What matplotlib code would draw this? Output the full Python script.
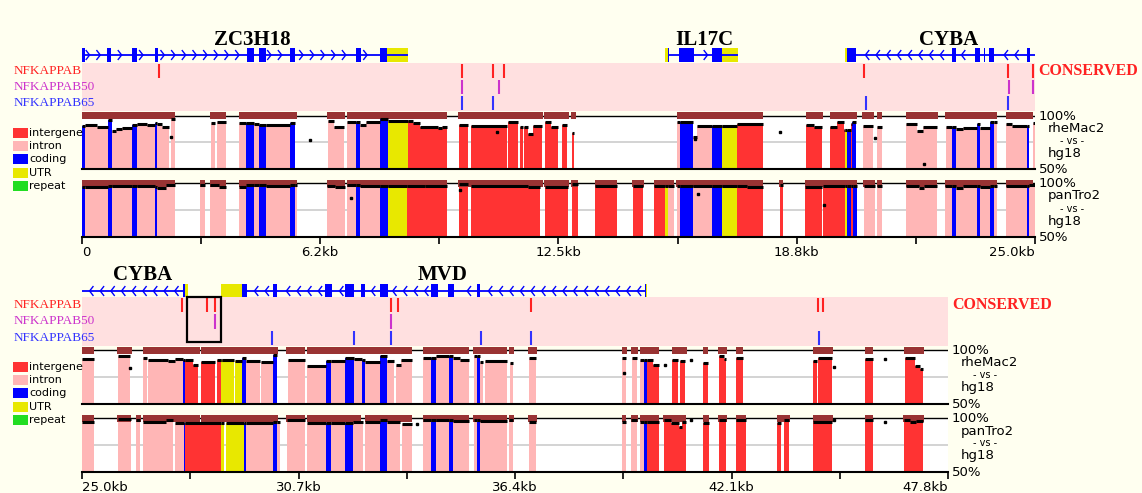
import numpy as np
import matplotlib
matplotlib.use('Agg')
import matplotlib.pyplot as plt
from matplotlib.patches import Rectangle

# ======================= DATA =======================
# type codes: ig = intergene, in = intron, cd = coding, ut = UTR
# ---- top panel (0 - 25.0 kb) ----
TOP_TICKS = [0.0, 6.25, 12.5, 18.75, 25.0]
TOP_TICK_LABELS = ['0', '6.2kb', '12.5kb', '18.8kb', '25.0kb']
TOP_MINOR = [3.125, 9.375, 15.625, 21.875]

TOP_GENE_NAMES = ['ZC3H18', 'IL17C', 'CYBA']
TOP_GENE_NAME_POS = [4.47, 16.32, 22.73]
TOP_GENES = [(0.00, 8.55, '+'), (15.37, 17.21, '+'), (20.07, 25.03, '-')]
TOP_CODING = [(0.0, 0.07), (0.66, 0.76), (1.31, 1.44), (1.92, 1.99), (4.33, 4.51),
              (4.64, 4.83), (5.46, 5.59), (7.19, 7.32), (7.82, 8.00), (15.37, 15.40),
              (15.66, 16.06), (16.53, 16.79), (20.07, 20.30), (22.82, 22.93),
              (23.43, 23.56), (23.66, 23.70), (23.80, 23.92), (24.79, 24.87)]
TOP_UTR = [(8.00, 8.55), (15.29, 15.37), (16.79, 17.21), (20.02, 20.07)]

TOP_NFKB = [2.02, 9.97, 10.78, 11.07, 20.51, 24.29, 24.95]
TOP_NFKB50 = [9.97, 10.94, 24.32, 24.95]
TOP_NFKB65 = [9.97, 10.78, 20.57, 24.29]

TOP_RHE = [
    (0.00, 0.07, 'cd', 90), (0.07, 0.40, 'in', 91), (0.40, 0.68, 'in', 89.5),
    (0.68, 0.79, 'cd', 96), (0.79, 0.90, 'in', 85.5), (0.90, 1.05, 'in', 87.5),
    (1.05, 1.31, 'in', 88.5), (1.31, 1.44, 'cd', 91), (1.44, 1.70, 'in', 92.5),
    (1.70, 1.92, 'in', 91.5), (1.92, 1.97, 'cd', 93), (1.97, 2.10, 'in', 92),
    (2.10, 2.28, 'in', 89.5), (2.33, 2.44, 'in', 97), (3.38, 3.49, 'in', 93),
    (3.54, 3.78, 'in', 94), (4.12, 4.30, 'in', 93), (4.30, 4.51, 'cd', 93),
    (4.51, 4.64, 'in', 92), (4.64, 4.83, 'cd', 91.5), (4.83, 5.46, 'in', 91),
    (5.46, 5.59, 'cd', 93), (6.45, 6.60, 'in', 95), (6.60, 6.87, 'in', 89.5),
    (6.95, 7.19, 'in', 94), (7.19, 7.29, 'cd', 94), (7.29, 7.45, 'in', 91),
    (7.45, 7.82, 'in', 94), (7.82, 8.03, 'cd', 97), (8.03, 8.55, 'ut', 95),
    (8.55, 8.68, 'ig', 95), (8.68, 8.87, 'ig', 93), (8.87, 9.34, 'ig', 89.5),
    (9.34, 9.44, 'ig', 88), (9.44, 9.58, 'ig', 89.5), (9.89, 10.13, 'ig', 91),
    (10.20, 11.15, 'ig', 90.5), (11.18, 11.44, 'ig', 94), (11.49, 11.57, 'ig', 89),
    (11.59, 11.70, 'ig', 89), (11.70, 11.83, 'ig', 83), (11.83, 12.07, 'ig', 90),
    (12.15, 12.30, 'ig', 94), (12.30, 12.49, 'ig', 89), (12.59, 12.72, 'ig', 91),
    (12.85, 12.91, 'ig', 83.5), (15.61, 15.69, 'in', 94), (15.69, 16.03, 'cd', 94),
    (16.03, 16.13, 'in', 80), (16.13, 16.53, 'in', 90.5), (16.53, 16.79, 'cd', 90.5),
    (16.79, 17.18, 'ut', 90.5), (17.18, 17.86, 'ig', 92.5), (18.99, 19.20, 'ig', 91),
    (19.20, 19.41, 'ig', 89), (19.62, 19.80, 'ig', 89), (19.80, 19.98, 'ig', 94),
    (19.98, 20.02, 'ig', 86.5), (20.02, 20.07, 'ut', 86.5), (20.07, 20.17, 'cd', 86.5),
    (20.17, 20.20, 'ig', 92), (20.20, 20.30, 'cd', 94), (20.49, 20.75, 'in', 90),
    (20.86, 20.99, 'in', 89), (21.62, 21.90, 'in', 92), (21.90, 22.06, 'in', 86),
    (22.06, 22.43, 'in', 89), (22.67, 22.82, 'in', 89), (22.82, 22.93, 'cd', 89.5),
    (22.93, 23.10, 'in', 87), (23.10, 23.48, 'in', 88.5), (23.48, 23.56, 'cd', 92),
    (23.56, 23.82, 'in', 88), (23.82, 23.92, 'cd', 94.5), (23.92, 24.00, 'in', 94.5),
    (24.24, 24.40, 'in', 92.5), (24.40, 24.79, 'in', 90.5), (24.79, 24.84, 'cd', 90.5),
    (24.95, 25.00, 'in', 93)]
TOP_RHE_BARS = [(0.0, 2.44), (3.36, 3.78), (4.12, 5.64), (6.43, 6.90), (6.95, 9.58),
                (9.86, 12.09), (12.12, 12.78), (12.83, 12.96), (15.61, 17.86),
                (18.99, 19.44), (19.62, 20.33), (20.46, 20.78), (20.86, 20.99),
                (21.62, 22.46), (22.64, 24.00), (24.24, 24.95)]
TOP_RHE_DOTS = [(2.33, 80), (5.98, 77), (10.88, 85), (16.08, 78), (18.30, 85),
                (20.81, 79), (22.10, 54)]

TOP_PAN = [
    (0.00, 0.07, 'cd', 96), (0.07, 0.68, 'in', 96), (0.68, 0.79, 'cd', 97.5),
    (0.79, 1.31, 'in', 97.5), (1.31, 1.44, 'cd', 97.5), (1.44, 1.92, 'in', 97.5),
    (1.92, 1.97, 'cd', 96), (1.97, 2.20, 'in', 95.5), (2.20, 2.44, 'in', 98),
    (3.10, 3.23, 'in', 98), (3.36, 3.60, 'in', 98), (3.60, 3.78, 'in', 96.5),
    (4.12, 4.30, 'in', 96.5), (4.30, 4.51, 'cd', 98), (4.51, 4.64, 'in', 98),
    (4.64, 4.83, 'cd', 98), (4.83, 5.46, 'in', 97.5), (5.46, 5.59, 'cd', 98),
    (5.59, 5.64, 'in', 98), (6.43, 6.65, 'in', 97.5), (6.65, 6.90, 'in', 96),
    (6.95, 7.19, 'in', 98), (7.19, 7.29, 'cd', 98), (7.29, 7.82, 'in', 97.5),
    (7.82, 8.03, 'cd', 97.5), (8.03, 8.53, 'ut', 97.5), (8.53, 9.00, 'ig', 97.5),
    (9.00, 9.58, 'ig', 97), (9.89, 10.13, 'ig', 99), (10.20, 11.70, 'ig', 97.5),
    (11.70, 12.01, 'ig', 96), (12.15, 12.75, 'ig', 96), (12.85, 13.01, 'ig', 99),
    (13.46, 14.03, 'ig', 97), (14.45, 14.72, 'ig', 97.5), (15.01, 15.29, 'ig', 97.5),
    (15.29, 15.37, 'ut', 97.5), (15.37, 15.53, 'in', 97.5), (15.61, 15.69, 'in', 97.5),
    (15.69, 16.03, 'cd', 97.5), (16.03, 16.53, 'in', 97.5), (16.53, 16.79, 'cd', 97.5),
    (16.79, 17.18, 'ut', 97.5), (17.18, 17.45, 'ig', 97.5), (17.45, 17.86, 'ig', 96),
    (18.31, 18.39, 'ig', 98), (18.97, 19.41, 'ig', 96), (19.44, 20.02, 'ig', 97.5),
    (20.02, 20.07, 'ut', 97), (20.07, 20.17, 'cd', 97), (20.17, 20.23, 'ig', 97.5),
    (20.23, 20.33, 'cd', 97.5), (20.51, 20.80, 'in', 97), (20.86, 20.99, 'in', 97),
    (21.62, 21.95, 'in', 97.5), (21.95, 22.10, 'in', 95.5), (22.10, 22.43, 'in', 97),
    (22.64, 22.82, 'in', 97.5), (22.82, 22.93, 'cd', 97.5), (22.93, 23.10, 'in', 95),
    (23.10, 23.48, 'in', 97), (23.48, 23.56, 'cd', 97.5), (23.56, 23.82, 'in', 96.5),
    (23.82, 23.92, 'cd', 97.5), (23.92, 24.00, 'in', 97.5), (24.24, 24.79, 'in', 97.5),
    (24.79, 24.84, 'cd', 97.5), (24.84, 25.00, 'in', 98)]
TOP_PAN_BARS = [(0.0, 2.44), (3.10, 3.23), (3.36, 3.78), (4.12, 5.64), (6.43, 6.90),
                (6.95, 9.58), (9.86, 12.09), (12.12, 12.78), (12.83, 13.01),
                (13.46, 14.03), (14.43, 14.74), (15.01, 15.53), (15.58, 17.86),
                (18.28, 18.39), (18.97, 20.33), (20.49, 20.80), (20.86, 20.99),
                (21.62, 22.43), (22.64, 24.00), (24.24, 24.95)]
TOP_PAN_DOTS = [(7.05, 86), (9.92, 93.5), (16.15, 90), (19.46, 79.5)]

# ---- bottom panel (25.0 - 47.8 kb) ----
BOT_TICKS = [25.0, 30.7, 36.4, 42.1, 47.8]
BOT_TICK_LABELS = ['25.0kb', '30.7kb', '36.4kb', '42.1kb', '47.8kb']
BOT_MINOR = [27.85, 33.55, 39.25, 44.95]

BOT_GENE_NAMES = ['CYBA', 'MVD']
BOT_GENE_NAME_POS = [26.59, 34.50]
BOT_GENES = [(25.00, 27.71, '-'), (29.34, 39.85, '-')]
BOT_CODING = [(27.66, 27.71), (29.21, 29.34), (30.03, 30.13), (31.40, 31.58),
              (31.92, 32.16), (32.35, 32.45), (32.85, 33.06), (34.19, 34.37),
              (34.64, 34.79), (35.40, 35.48), (39.82, 39.85)]
BOT_UTR = [(27.71, 27.79), (28.66, 29.21), (39.85, 39.88)]

BOT_NFKB = [27.63, 28.29, 28.50, 33.14, 33.32, 36.82, 44.38, 44.51]
BOT_NFKB50 = [28.50, 33.14]
BOT_NFKB65 = [30.00, 32.16, 33.14, 35.51, 36.82, 44.40]
BOX_SPAN = (27.76, 28.66)

BOT_RHE = [
    (25.00, 25.32, 'in', 92), (25.95, 26.26, 'in', 94), (26.61, 26.71, 'in', 93),
    (26.74, 27.26, 'in', 91), (27.26, 27.44, 'in', 89.5), (27.44, 27.66, 'in', 92),
    (27.66, 27.71, 'cd', 91), (27.71, 27.92, 'ig', 91), (27.92, 28.05, 'ig', 86),
    (28.13, 28.49, 'ig', 89), (28.55, 28.66, 'ig', 91), (28.66, 28.69, 'ut', 91),
    (28.69, 29.00, 'ut', 90.5), (29.04, 29.21, 'ut', 90), (29.21, 29.33, 'cd', 93),
    (29.33, 29.68, 'in', 90), (29.72, 30.03, 'in', 88.5), (30.03, 30.14, 'cd', 95),
    (30.42, 30.87, 'in', 90.5), (30.93, 31.42, 'in', 85.5), (31.42, 31.56, 'cd', 90),
    (31.56, 31.92, 'in', 90), (31.92, 32.16, 'cd', 93), (32.16, 32.37, 'in', 92),
    (32.37, 32.45, 'cd', 91), (32.45, 32.85, 'in', 89), (32.85, 33.04, 'cd', 94.5),
    (33.04, 33.21, 'in', 90), (33.27, 33.40, 'in', 86), (33.40, 33.68, 'in', 90.5),
    (33.97, 34.18, 'in', 93), (34.18, 34.32, 'cd', 93), (34.32, 34.67, 'in', 94),
    (34.67, 34.78, 'cd', 94), (34.78, 34.95, 'in', 93), (34.95, 35.19, 'in', 91),
    (35.32, 35.41, 'in', 94.5), (35.41, 35.48, 'cd', 94), (35.48, 35.57, 'in', 89),
    (35.61, 36.18, 'in', 90), (36.27, 36.34, 'in', 88), (36.78, 36.95, 'in', 93),
    (39.23, 39.32, 'in', 93), (39.47, 39.62, 'in', 93), (39.69, 39.80, 'in', 91),
    (39.80, 39.87, 'cd', 91), (39.87, 40.03, 'ig', 91), (40.03, 40.20, 'ig', 86),
    (40.53, 40.70, 'ig', 91), (40.75, 40.88, 'ig', 90), (41.36, 41.47, 'ig', 88),
    (41.78, 41.90, 'ig', 94.5), (41.90, 41.96, 'ig', 92), (42.22, 42.41, 'ig', 93),
    (44.24, 44.34, 'ig', 90), (44.39, 44.74, 'ig', 93), (45.62, 45.83, 'ig', 92),
    (46.67, 46.93, 'ig', 93), (46.93, 47.06, 'ig', 85), (47.06, 47.15, 'ig', 82)]
BOT_RHE_BARS = [(25.0, 25.32), (25.93, 26.32), (26.61, 28.10), (28.14, 30.16),
                (30.38, 30.86), (30.93, 33.70), (33.97, 35.20), (35.30, 36.18),
                (36.25, 36.37), (36.73, 36.99), (39.23, 39.34), (39.45, 39.65),
                (39.69, 40.20), (40.53, 40.92), (41.36, 41.49), (41.75, 41.97),
                (42.21, 42.41), (44.24, 44.78), (45.62, 45.83), (46.64, 47.17)]
BOT_RHE_DOTS = [(26.26, 83), (39.27, 78.5), (40.35, 86), (41.03, 91),
                (44.81, 84), (46.14, 92)]

BOT_PAN = [
    (25.00, 25.32, 'in', 96.5), (25.95, 26.29, 'in', 99), (26.43, 26.54, 'in', 98),
    (26.61, 27.20, 'in', 96.5), (27.20, 27.40, 'in', 98), (27.44, 27.69, 'in', 95.5),
    (27.69, 27.72, 'cd', 95.5), (27.72, 28.67, 'ig', 95.5), (28.67, 28.73, 'ut', 95.5),
    (28.80, 29.26, 'ut', 95.5), (29.26, 29.33, 'cd', 95.5), (29.33, 30.03, 'in', 95.5),
    (30.03, 30.14, 'cd', 96.5), (30.14, 30.20, 'in', 96.5), (30.41, 30.87, 'in', 98),
    (30.93, 31.43, 'in', 95), (31.43, 31.55, 'cd', 95), (31.55, 31.92, 'in', 95),
    (31.92, 32.14, 'cd', 95.5), (32.14, 32.40, 'in', 96.5), (32.46, 32.85, 'in', 96.5),
    (32.85, 33.04, 'cd', 98), (33.04, 33.37, 'in', 96.5), (33.42, 33.68, 'in', 94),
    (33.97, 34.18, 'in', 98), (34.18, 34.32, 'cd', 98), (34.32, 34.67, 'in', 98),
    (34.67, 34.78, 'cd', 98), (34.78, 35.19, 'in', 97), (35.32, 35.41, 'in', 98),
    (35.41, 35.48, 'cd', 98), (35.48, 36.18, 'in', 97), (36.24, 36.35, 'in', 98),
    (36.78, 36.95, 'in', 96.5), (39.22, 39.32, 'in', 96), (39.45, 39.62, 'in', 98),
    (39.69, 39.80, 'in', 96.5), (39.80, 39.87, 'cd', 96.5), (39.87, 40.20, 'ig', 96.5),
    (40.31, 40.50, 'ig', 98), (40.50, 40.72, 'ig', 95), (40.72, 40.80, 'ig', 92),
    (40.80, 40.90, 'ig', 96.5), (41.36, 41.52, 'ig', 95), (41.78, 41.96, 'ig', 98),
    (42.22, 42.48, 'ig', 98), (43.29, 43.40, 'ig', 95), (43.47, 43.62, 'ig', 98),
    (44.24, 44.74, 'ig', 96.5), (45.62, 45.83, 'ig', 98), (46.64, 46.80, 'ig', 98),
    (46.80, 46.95, 'ig', 96), (46.95, 47.15, 'ig', 97)]
BOT_PAN_BARS = [(25.0, 25.32), (25.93, 26.29), (26.42, 26.55), (26.61, 28.10),
                (28.14, 30.16), (30.38, 30.86), (30.93, 32.35), (32.46, 33.70),
                (33.97, 35.20), (35.30, 36.18), (36.25, 36.37), (36.73, 36.99),
                (39.22, 39.32), (39.45, 39.65), (39.69, 40.20), (40.30, 40.90),
                (41.36, 41.51), (41.75, 41.97), (42.22, 42.48), (43.29, 43.64),
                (44.24, 44.78), (45.62, 45.83), (46.62, 47.17)]
BOT_PAN_DOTS = [(33.81, 94), (41.03, 98.5), (44.81, 98.5), (46.14, 96.5)]

TF_NAMES = ['NFKAPPAB', 'NFKAPPAB50', 'NFKAPPAB65']
SPECIES = ['rheMac2', 'panTro2']
LEGEND_LABELS = ['intergene', 'intron', 'coding', 'UTR', 'repeat']

# ======================= STYLE =======================
W, H = 1142, 493
BG = '#FFFFF0'
COL = {'ig': '#FF3333', 'in': '#FFB6B6', 'cd': '#0000FF', 'ut': '#E8E800'}
LEGEND_COLORS = ['#FF3333', '#FFB6B6', '#0000FF', '#E8E800', '#22DD22']
TF_COLORS = ['#FF2222', '#CC33CC', '#3333FF']
BROWN = '#993333'
BLUE = '#0000FF'
PINKBAND = '#FFE0E0'

fig = plt.figure(figsize=(W / 100, H / 100), dpi=100)
fig.patch.set_facecolor(BG)


def axes_px(x0, x1, ytop, ybot):
    ax = fig.add_axes([x0 / W, 1 - ybot / H, (x1 - x0) / W, (ybot - ytop) / H])
    ax.set_facecolor('none')
    for sp in ax.spines.values():
        sp.set_visible(False)
    ax.set_xticks([])
    ax.set_yticks([])
    return ax


def draw_genes(ax, xlim, genes, coding, utr, names, name_pos, name_dy):
    ax.set_xlim(*xlim)
    ax.set_ylim(0, 1)
    blocks = coding + utr
    for s, e, strand in genes:
        ax.plot([s, e], [0.5, 0.5], color=BLUE, lw=1.3, solid_capstyle='butt')
        for x in np.arange(s + 0.2, e - 0.1, 0.28):
            if any(a - 0.12 < x < b + 0.12 for a, b in blocks):
                continue
            d = -0.09 if strand == '+' else 0.09
            ax.plot([x + d, x, x + d], [0.72, 0.5, 0.28], color=BLUE, lw=1.0)
    ax.broken_barh([(a, b - a) for a, b in coding], (0.17, 0.66),
                   facecolors=BLUE, edgecolor='none')
    ax.broken_barh([(a, b - a) for a, b in utr], (0.17, 0.66),
                   facecolors=COL['ut'], edgecolor='none')
    for n, p in zip(names, name_pos):
        ax.text(p, 0.5 + name_dy, n, ha='center', va='center', fontsize=15,
                fontweight='bold', family='Liberation Serif', clip_on=False)


def draw_tf(ax, xlim, rows):
    ax.set_xlim(*xlim)
    ax.set_ylim(0, 3)
    ax.set_facecolor(PINKBAND)
    for i, (sites, c) in enumerate(zip(rows, TF_COLORS)):
        base = 2 - i
        ax.vlines(sites, base + 0.06, base + 0.94, color=c, lw=1.5)


def draw_cons(ax, xlim, segs, bars, dots):
    ax.set_xlim(*xlim)
    ax.set_ylim(50, 104)
    ax.add_patch(Rectangle((xlim[0], 50), xlim[1] - xlim[0], 50, facecolor='white',
                           edgecolor='none', zorder=0))
    ax.axhline(75, color='#CCCCCC', lw=1.2, zorder=0.5)
    for s, e, t, p in segs:
        ax.bar(s, p - 50, width=e - s, bottom=50, align='edge', color=COL[t],
               edgecolor='none', linewidth=0, zorder=1)
    ax.axhline(100, color='black', lw=1.0, zorder=2)
    ax.broken_barh([(s, e - s) for s, e in bars], (96.6, 6.6), facecolors=BROWN,
                   edgecolor='none', zorder=3)
    for s, e, t, p in segs:
        ax.hlines(p, s, e, color='black', lw=2.2, zorder=4)
    if dots:
        dx, dy = zip(*dots)
        ax.plot(dx, dy, 's', ms=2, color='black', zorder=4)
    ax.spines['bottom'].set_visible(True)
    ax.spines['bottom'].set_linewidth(1.5)


def right_labels(px_right, p100, p50, species):
    x0 = (px_right + 4) / W
    x1 = (px_right + 13) / W
    xc = (px_right + 37) / W
    kw = dict(fontsize=9.5, va='center', family='DejaVu Sans')
    fig.text(x0, 1 - (p100 + 0.5) / H, '100%', **kw)
    fig.text(x1, 1 - (p100 + 13) / H, species, **kw)
    fig.text(xc, 1 - (p100 + 25.5) / H, '- vs -', ha='center', fontsize=7,
             va='center', family='DejaVu Sans')
    fig.text(x1, 1 - (p100 + 38) / H, 'hg18', **kw)
    fig.text(x0, 1 - (p50 + 0.5) / H, '50%', **kw)


PANELS = [
    dict(xlim=(0.0, 25.0), px=(82, 1035), gene=(45, 65), name_py=40, tf=(63, 111),
         c=[(115.7, 168.7), (183.0, 236.7)], legend_py=133, cons_px=1038,
         genes=TOP_GENES, coding=TOP_CODING, utr=TOP_UTR, names=TOP_GENE_NAMES,
         name_pos=TOP_GENE_NAME_POS, tf_rows=[TOP_NFKB, TOP_NFKB50, TOP_NFKB65],
         tracks=[(TOP_RHE, TOP_RHE_BARS, TOP_RHE_DOTS), (TOP_PAN, TOP_PAN_BARS, TOP_PAN_DOTS)],
         ticks=TOP_TICKS, tick_labels=TOP_TICK_LABELS, minor=TOP_MINOR, box=None),
    dict(xlim=(25.0, 47.8), px=(82, 948), gene=(281, 301), name_py=275, tf=(297, 346),
         c=[(350.0, 404.0), (418.0, 472.0)], legend_py=367, cons_px=952,
         genes=BOT_GENES, coding=BOT_CODING, utr=BOT_UTR, names=BOT_GENE_NAMES,
         name_pos=BOT_GENE_NAME_POS, tf_rows=[BOT_NFKB, BOT_NFKB50, BOT_NFKB65],
         tracks=[(BOT_RHE, BOT_RHE_BARS, BOT_RHE_DOTS), (BOT_PAN, BOT_PAN_BARS, BOT_PAN_DOTS)],
         ticks=BOT_TICKS, tick_labels=BOT_TICK_LABELS, minor=BOT_MINOR, box=BOX_SPAN),
]

for P in PANELS:
    x0, x1 = P['px']
    # gene track
    gt, gb = P['gene']
    gax = axes_px(x0, x1, gt, gb)
    name_dy = ((gt + gb) / 2 - P['name_py']) / (gb - gt)
    draw_genes(gax, P['xlim'], P['genes'], P['coding'], P['utr'], P['names'],
               P['name_pos'], name_dy)
    # TF band
    tt, tb = P['tf']
    tax = axes_px(x0, x1, tt, tb)
    draw_tf(tax, P['xlim'], P['tf_rows'])
    rowh = (tb - tt) / 3
    for i, (n, c) in enumerate(zip(TF_NAMES, TF_COLORS)):
        fig.text(14 / W, 1 - (tt + rowh * (i + 0.5)) / H, n, color=c, fontsize=9.5,
                 family='Liberation Serif', va='center')
    fig.text(P['cons_px'] / W, 1 - (tt + rowh * 0.5) / H, 'CONSERVED', color='#FF2222',
             fontsize=11.5, fontweight='bold', family='Liberation Serif', va='center')
    if P['box']:
        b0, b1 = P['box']
        tax.add_patch(Rectangle((b0, 0.25), b1 - b0, 2.72, fill=False, edgecolor='black',
                                lw=1.6, clip_on=False, zorder=5))
    # conservation plots
    for k, ((p100, p50), (segs, bars, dots)) in enumerate(zip(P['c'], P['tracks'])):
        s = (p50 - p100) / 50.0
        cax = axes_px(x0, x1, p100 - 4 * s, p50)
        draw_cons(cax, P['xlim'], segs, bars, dots)
        right_labels(x1, p100, p50, SPECIES[k])
        if k == 1:
            cax.set_xticks(P['ticks'])
            cax.set_xticklabels(P['tick_labels'], fontsize=9.5, family='DejaVu Sans')
            cax.set_xticks(P['minor'], minor=True)
            cax.tick_params(axis='x', which='both', direction='out', length=5,
                            width=1.2, pad=1.5)
            labs = cax.get_xticklabels()
            labs[0].set_ha('left')
            labs[-1].set_ha('right')
    # legend
    ly = P['legend_py']
    for i, (lab, c) in enumerate(zip(LEGEND_LABELS, LEGEND_COLORS)):
        yc = ly + i * 13.2
        fig.patches.append(Rectangle((13 / W, 1 - (yc + 5) / H), 15 / W, 10 / H,
                                     facecolor=c, edgecolor='none',
                                     transform=fig.transFigure, figure=fig))
        fig.text(29 / W, 1 - yc / H, lab, fontsize=8, family='DejaVu Sans', va='center')

fig.savefig('out.png', dpi=100, facecolor=BG)
